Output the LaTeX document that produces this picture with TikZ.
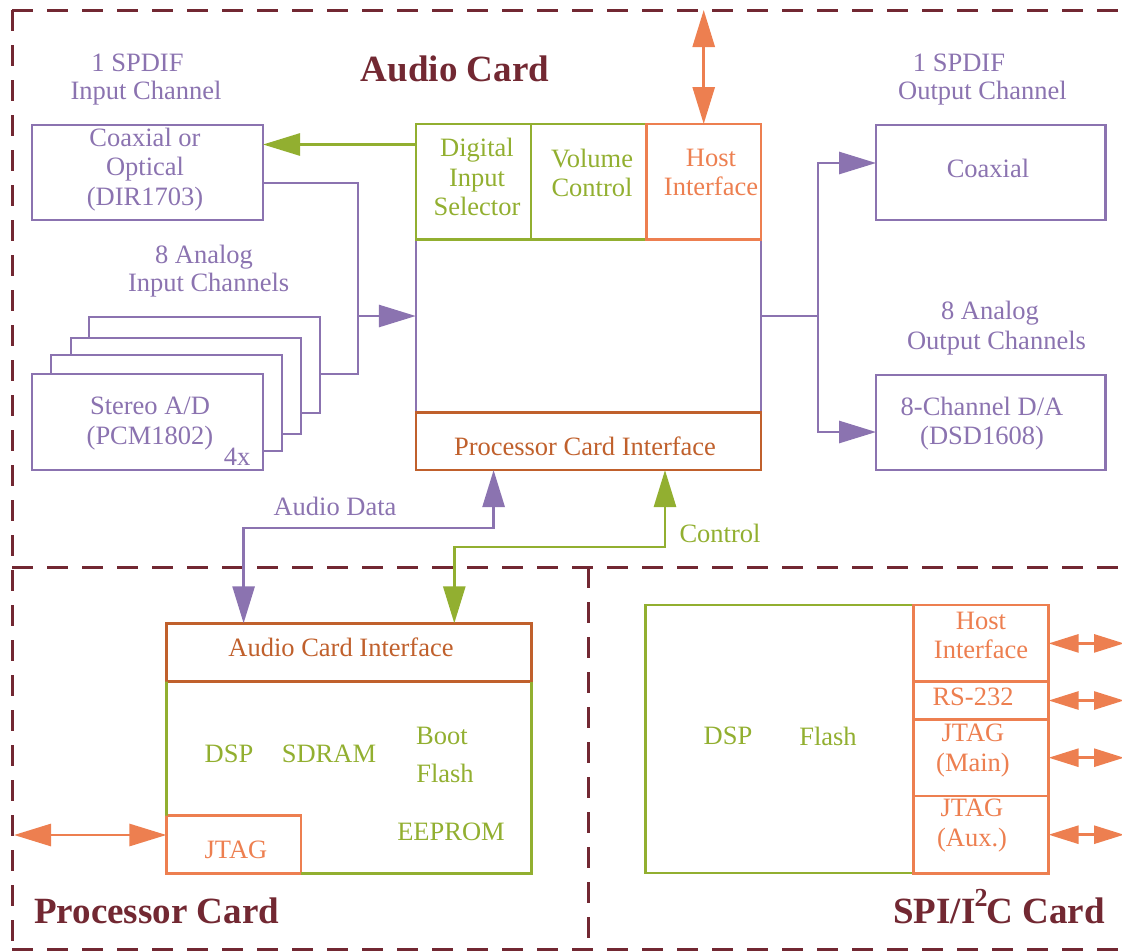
\documentclass[tikz,border=0pt]{standalone}
\usepackage{fontspec}
\setmainfont{Liberation Serif}
\usetikzlibrary{arrows.meta}
\definecolor{cpur}{RGB}{139,115,176}
\definecolor{cgrn}{RGB}{146,175,48}
\definecolor{corg}{RGB}{237,127,80}
\definecolor{cdor}{RGB}{192,96,44}
\definecolor{cred}{RGB}{114,40,50}
\begin{document}
\begin{tikzpicture}[x=1pt,y=-1pt,
  txt/.style={font=\fontsize{26.5}{29.5}\selectfont, inner sep=0pt, align=center},
  ttl/.style={font=\fontsize{37}{40}\selectfont\bfseries, text=cred, inner sep=0pt},
  bx/.style={draw, line width=2.8pt, inner sep=0pt, outer sep=0pt},
  ln/.style={line width=2.8pt},
  big/.style={-{Triangle[length=37pt,width=22pt]}},
  bigd/.style={{Triangle[length=37pt,width=22pt]}-{Triangle[length=37pt,width=22pt]}},
  smd/.style={{Triangle[length=30pt,width=18pt]}-{Triangle[length=30pt,width=18pt]}},
  cardframe/.style={cred, line width=3pt, dash pattern=on 21pt off 14pt},
]
\path[use as bounding box] (0,0) rectangle (1122,951);
\clip (0,0) rectangle (1122,951);

% card frames
\draw[cardframe] (12,10) -- (1140,10);
\draw[cardframe] (12,10) -- (12,955);
\draw[cardframe] (12,567) -- (1140,567);
\draw[cardframe] (12,949.5) -- (1140,949.5);
\draw[cardframe] (588,567) -- (588,955);

% titles
\node[ttl, anchor=base] (t-audio) at (455,81) {Audio Card};
\node[ttl, anchor=base west] (t-proc) at (34,923) {Processor Card};
\node[ttl, anchor=base east] (t-spi) at (1105,923) {SPI/I\kern-1pt\raisebox{17pt}{\fontsize{26}{26}\selectfont\bfseries 2}\kern-1pt C Card};

% ---------------- Audio card ----------------
\node[txt, text=cpur] (l-sin1) at (137.5,63) {1 SPDIF};
\node[txt, text=cpur] (l-sin2) at (146,93) {Input Channel};
\node[txt, text=cpur] (l-ain1) at (204,257) {8 Analog};
\node[txt, text=cpur] (l-ain2) at (208.6,285) {Input Channels};

\node[bx, draw=cpur, minimum width=231pt, minimum height=95pt] (coaxin) at (147.5,172.5) {};
\node[txt, text=cpur] (coaxin-t) at (145,169.5) {Coaxial or\\Optical\\(DIR1703)};

\node[bx, draw=cpur, fill=white, minimum width=231pt, minimum height=96pt] (ad4) at (204.5,365) {};
\node[bx, draw=cpur, fill=white, minimum width=230pt, minimum height=96pt] (ad3) at (186,386) {};
\node[bx, draw=cpur, fill=white, minimum width=231pt, minimum height=96pt] (ad2) at (166.5,403) {};
\node[bx, draw=cpur, fill=white, minimum width=231pt, minimum height=96pt] (ad1) at (147.5,422) {};
\node[txt, text=cpur] (ad1-t) at (150,423.5) {Stereo A/D\\(PCM1802)};
\node[txt, text=cpur] (ad1-n) at (237,457) {4x};

\node[inner sep=0pt, minimum width=345pt, minimum height=173pt] (core) at (588.5,326) {};
\draw[line width=2pt, cpur] (core.north west) -- (core.south west);
\draw[line width=2pt, cpur] (core.north east) -- (core.south east);

\node[bx, draw=cgrn, minimum width=115pt, minimum height=115.5pt] (dis) at (473.5,181.75) {};
\node[bx, draw=cgrn, minimum width=115.4pt, minimum height=115.5pt] (vol) at (588.7,181.75) {};
\node[bx, draw=corg, minimum width=114.6pt, minimum height=115.5pt] (hif) at (703.7,181.75) {};
\node[txt, text=cgrn] (dis-t) at (477,177) {Digital\\Input\\Selector};
\node[txt, text=cgrn] (vol-t) at (592,173) {Volume\\Control};
\node[txt, text=corg] (hif-t) at (711,172.5) {Host\\Interface};

\node[bx, draw=cdor, minimum width=345pt, minimum height=57.3pt] (pci) at (588.5,441.4) {};
\node[txt, text=cdor] (pci-t) at (585,446) {Processor Card Interface};

% host arrow
\draw[ln, corg, bigd] (hif.north |- 0,10) -- (hif.north);

% input connections
\draw[ln, cgrn, big] (dis.west |- 0,144.5) -- (coaxin.east |- 0,144.5);
\coordinate (injn) at (358,316);
\draw[ln, cpur] (coaxin.east |- 0,183) -| (injn) |- (ad4.east |- 0,374);
\draw[ln, cpur, big] (injn) -- (core.west |- injn);

% outputs
\node[txt, text=cpur] (l-sout1) at (959,63) {1 SPDIF};
\node[txt, text=cpur] (l-sout2) at (982.5,93) {Output Channel};
\node[txt, text=cpur] (l-aout1) at (990,313) {8 Analog};
\node[txt, text=cpur] (l-aout2) at (996.5,343) {Output Channels};

\node[bx, draw=cpur, minimum width=229.7pt, minimum height=95pt] (coaxout) at (990.9,172.5) {};
\node[txt, text=cpur] (coaxout-t) at (988,168) {Coaxial};
\node[bx, draw=cpur, minimum width=229.7pt, minimum height=95pt] (daout) at (990.9,422.5) {};
\node[txt, text=cpur] (daout-t) at (982,423.5) {8-Channel D/A\\(DSD1608)};

\coordinate (outjn) at (818,316);
\draw[ln, cpur] (core.east |- outjn) -- (outjn);
\draw[ln, cpur, big] (outjn) |- (coaxout.west |- 0,163);
\draw[ln, cpur, big] (outjn) |- (daout.west |- 0,432);

% ---------------- Processor card ----------------
\node[bx, draw=cdor, minimum width=365.4pt, minimum height=58.4pt] (aci) at (349.1,652.5) {};
\node[txt, text=cdor] (aci-t) at (341,647) {Audio Card Interface};
\node[bx, draw=corg, minimum width=134.6pt, minimum height=57.6pt] (jtagp) at (233.7,844.5) {};
\draw[ln, cgrn] (aci.south west) -- (jtagp.north west);
\draw[ln, cgrn] (jtagp.south east) -- (aci.south east |- jtagp.south) -- (aci.south east);
\node[txt, text=corg] (jtagp-t) at (236,850) {JTAG};
\node[txt, text=cgrn] (p-dsp) at (229,754) {DSP};
\node[txt, text=cgrn] (p-sdram) at (329,754) {SDRAM};
\node[txt, text=cgrn] (p-boot) at (442,736) {Boot};
\node[txt, text=cgrn] (p-flash) at (445,773) {Flash};
\node[txt, text=cgrn] (p-eeprom) at (451,832) {EEPROM};

\draw[ln, corg, bigd] (14,835) -- (jtagp.west |- 0,835);

% audio data and control
\draw[ln, cpur, bigd] (aci.north -| 243.6,0) |- (493.6,528) -- (pci.south -| 493.6,0);
\node[txt, text=cpur] (l-adata) at (335,506) {Audio Data};
\draw[ln, cgrn, bigd] (aci.north -| 454.3,0) |- (665,547) -- (pci.south -| 665,0);
\node[txt, text=cgrn] (l-ctrl) at (720,533) {Control};

% ---------------- SPI/I2C card ----------------
\node[bx, draw=cgrn, minimum width=268pt, minimum height=268pt] (spi) at (779.7,739) {};
\node[txt, text=cgrn] (s-dsp) at (728,736) {DSP};
\node[txt, text=cgrn] (s-flash) at (828,736) {Flash};

\node[bx, draw=corg, fill=white, minimum width=135pt, minimum height=76.7pt] (hostb) at (981.1,643.4) {};
\node[bx, draw=corg, fill=white, minimum width=135pt, minimum height=37.6pt] (rsb) at (981.1,700.5) {};
\node[bx, draw=corg, fill=white, minimum width=135pt, minimum height=76.7pt] (jmb) at (981.1,757.7) {};
\node[bx, draw=corg, fill=white, minimum width=135pt, minimum height=77.3pt] (jab) at (981.1,834.7) {};
\node[txt, text=corg] (hostb-t) at (981,635.5) {Host\\Interface};
\node[txt, text=corg] (rsb-t) at (973,697) {RS-232};
\node[txt, text=corg] (jmb-t) at (973,750.5) {JTAG\\(Main)};
\node[txt, text=corg] (jab-t) at (972,825.5) {JTAG\\(Aux.)};

\draw[ln, corg, smd] (hostb.east) -- (hostb.east -| 1124,0);
\draw[ln, corg, smd] (rsb.east) -- (rsb.east -| 1124,0);
\draw[ln, corg, smd] (jmb.east) -- (jmb.east -| 1124,0);
\draw[ln, corg, smd] (jab.east) -- (jab.east -| 1124,0);
\end{tikzpicture}
\end{document}
